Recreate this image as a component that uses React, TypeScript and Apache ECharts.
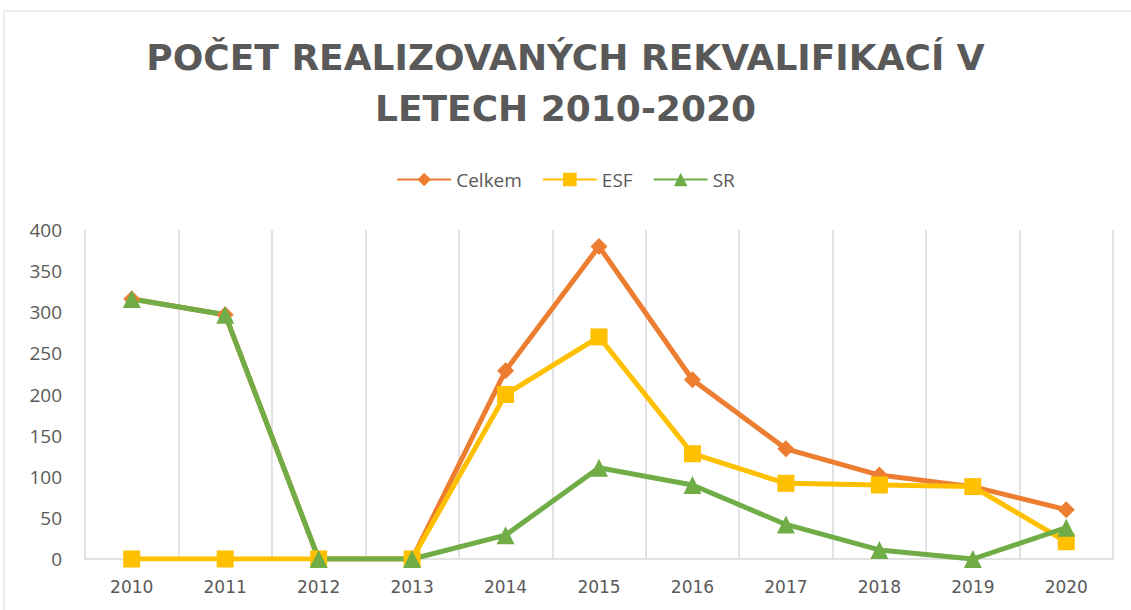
import React, { useEffect, useRef } from "react";
import * as echarts from "echarts";

const categories = ["2010", "2011", "2012", "2013", "2014", "2015", "2016", "2017", "2018", "2019", "2020"];
const celkem = [316, 297, 0, 0, 229, 380, 218, 134, 102, 88, 60];
const esf = [0, 0, 0, 0, 200, 270, 128, 92, 90, 88, 21];
const sr = [316, 297, 0, 0, 29, 111, 90, 42, 11, 0, 38];
const yTicks = { min: 0, max: 400, interval: 50 };

export default function App() {
  const ref = useRef<HTMLDivElement>(null);
  useEffect(() => {
    document.body.style.margin = "0";
    const chart = echarts.init(ref.current!, null, { renderer: "svg" });
    const txt = "#595959";
    const grid = "#d9d9d9";
    chart.setOption({
      animation: false,
      backgroundColor: "#ffffff",
      title: {
        text: "POČET REALIZOVANÝCH REKVALIFIKACÍ V\nLETECH 2010-2020",
        left: "center",
        top: 27,
        textStyle: {
          fontFamily: "DejaVu Sans",
          fontWeight: "bold",
          fontSize: 36,
          lineHeight: 51,
          color: txt,
        },
      },
      legend: {
        top: 165,
        left: "center",
        itemWidth: 54,
        itemHeight: 17,
        itemGap: 20,
        textStyle: { fontFamily: "Open Sans", fontSize: 19, color: txt },
        data: ["Celkem", "ESF", "SR"],
      },
      graphic: [
        {
          type: "rect",
          shape: { x: 4, y: 11, width: 1200, height: 700 },
          style: { fill: "none", stroke: "#d9d9d9", lineWidth: 1 },
          silent: true,
        },
      ],
      grid: { left: 85, right: 18, top: 230, bottom: 51 },
      xAxis: {
        type: "category",
        data: categories,
        boundaryGap: true,
        axisLine: { show: true, lineStyle: { color: grid, width: 1.5 } },
        axisTick: { show: false },
        splitLine: { show: true, lineStyle: { color: grid, width: 1.5 } },
        axisLabel: { fontFamily: "DejaVu Sans", fontSize: 17, color: txt, margin: 19 },
      },
      yAxis: {
        type: "value",
        min: yTicks.min,
        max: yTicks.max,
        interval: yTicks.interval,
        axisLine: { show: false },
        axisTick: { show: false },
        splitLine: { show: false },
        axisLabel: { fontFamily: "Open Sans", fontSize: 19, color: txt, margin: 23 },
      },
      series: [
        {
          name: "Celkem",
          type: "line",
          data: celkem,
          symbol: "diamond",
          symbolSize: 17,
          lineStyle: { width: 5, color: "#ED7D31" },
          itemStyle: { color: "#ED7D31" },
        },
        {
          name: "ESF",
          type: "line",
          data: esf,
          symbol: "rect",
          symbolSize: 17,
          lineStyle: { width: 5, color: "#FFC000" },
          itemStyle: { color: "#FFC000" },
        },
        {
          name: "SR",
          type: "line",
          data: sr,
          symbol: "triangle",
          symbolSize: 18,
          lineStyle: { width: 5, color: "#70AD47" },
          itemStyle: { color: "#70AD47" },
        },
      ],
    });
    return () => chart.dispose();
  }, []);
  return <div ref={ref} style={{ width: 1131, height: 610 }} />;
}
